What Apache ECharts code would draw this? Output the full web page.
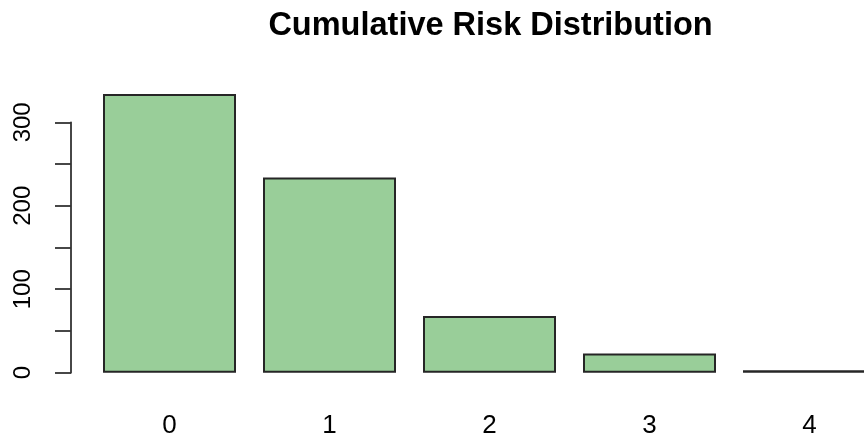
<!DOCTYPE html>
<html>
<head>
<meta charset="utf-8">
<script src="https://cdn.jsdelivr.net/npm/echarts@6/dist/echarts.min.js"></script>
<style>html,body{margin:0;padding:0;background:#fff;}#c{width:864px;height:439px;}</style>
</head>
<body>
<div id="c"></div>
<script>
const categories = ['0', '1', '2', '3', '4'];
const counts = [334, 234, 68, 23, 3];
const yTicks = [0, 50, 100, 150, 200, 250, 300];
const yLabelsShown = [0, 100, 200, 300];
const titleText = 'Cumulative Risk Distribution';

const chart = echarts.init(document.getElementById('c'), null, {renderer: 'canvas'});
const font = "'Liberation Sans', Arial, Helvetica, sans-serif";
chart.setOption({
  animation: false,
  backgroundColor: '#ffffff',
  title: {
    text: titleText,
    left: 485.5, top: 5, textAlign: 'center',
    textStyle: {fontFamily: font, fontWeight: 'bold', fontSize: 32.5, color: '#000'}
  },
  grid: {left: 89.5, top: 122.3, width: 800, height: 250.4, containLabel: false, outerBoundsMode: 'none'},
  xAxis: {
    type: 'category',
    data: categories,
    boundaryGap: true,
    axisLine: {show: false},
    axisTick: {show: false},
    axisLabel: {margin: 40, fontFamily: font, fontSize: 26, color: '#000'},
    splitLine: {show: false}
  },
  yAxis: {
    type: 'value',
    min: yTicks[0], max: yTicks[yTicks.length - 1], interval: 50,
    offset: 18.5,
    axisLine: {show: true, lineStyle: {color: '#333', width: 1.8}},
    axisTick: {show: true, inside: false, length: 16, lineStyle: {color: '#333', width: 1.8}},
    axisLabel: {
      rotate: 90, margin: 36, fontFamily: font, fontSize: 24, color: '#000',
      formatter: v => yLabelsShown.includes(v) ? String(v) : ''
    },
    splitLine: {show: false}
  },
  series: [{
    type: 'bar',
    data: counts,
    barWidth: 133,
    clip: false,
    itemStyle: {color: '#99CE99', borderColor: '#262626', borderWidth: 2}
  }]
});
</script>
</body>
</html>
